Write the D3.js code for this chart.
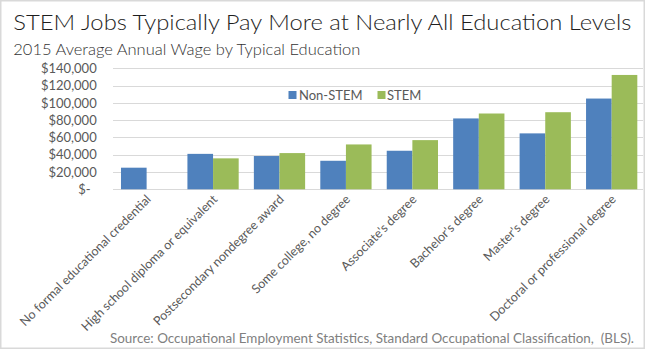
<!DOCTYPE html>
<html><head><meta charset="utf-8">
<script src="https://cdn.jsdelivr.net/npm/d3@7/dist/d3.min.js"></script>
<style>
html,body{margin:0;padding:0;background:#fff;}
svg{display:block;font-family:Lato,"Noto Sans",sans-serif;}
</style></head>
<body>
<svg id="chart" width="646" height="351"></svg>
<script>
const categories = ["No formal educational credential","High school diploma or equivalent","Postsecondary nondegree award","Some college, no degree","Associate's degree","Bachelor's degree","Master's degree","Doctoral or professional degree"];
const seriesNames = ["Non-STEM","STEM"];
const nonStem = [25000, 41000, 38500, 33000, 44600, 82000, 64700, 105000];
const stem = [null, 35800, 41900, 51900, 56900, 87700, 89200, 132300];
const yTicks = [0,20000,40000,60000,80000,100000,120000,140000];
const colors = {"Non-STEM":"#4f81bd","STEM":"#9bbb59"};
const titleText = "STEM Jobs Typically Pay More at Nearly All Education Levels";
const subtitleText = "2015 Average Annual Wage by Typical Education";
const sourceText = "Source: Occupational Employment Statistics, Standard Occupational Classification,  (BLS).";

const svg = d3.select("#chart");

// border
svg.append("rect").attr("x",0.75).attr("y",0.75).attr("width",643.5).attr("height",347.5)
  .attr("fill","#fff").attr("stroke","#d9d9d9").attr("stroke-width",1.5);

const x = d3.scaleBand().domain(categories).range([113.4, 644.9]).paddingInner(0).paddingOuter(0);
const xs = d3.scaleBand().domain(seriesNames).range([0, x.bandwidth()]).paddingInner(0).paddingOuter(0.296);
const y = d3.scaleLinear().domain([0,140000]).range([189.3, 68.3]);

// gridlines
svg.append("g").selectAll("line").data(yTicks).join("line")
  .attr("x1",113).attr("x2",643)
  .attr("y1",d=>Math.round(y(d))+0.5).attr("y2",d=>Math.round(y(d))+0.5)
  .attr("stroke","#d9d9d9").attr("stroke-width",1);

// y axis labels
const yAxis = d3.axisLeft(y).tickValues(yTicks).tickSize(0).tickPadding(0)
  .tickFormat(d => d===0 ? "$-" : "$" + d3.format(",")(d));
const gy = svg.append("g").attr("transform","translate(96.7,0)").call(yAxis);
gy.select(".domain").remove();
gy.selectAll("text").attr("fill","#595959").style("font-size","13px").style("font-family","Lato")
  .attr("dx", d => d===0 ? -6 : 0);

// bars
const rows = categories.map((c,i)=>({cat:c, vals:[{s:"Non-STEM",v:nonStem[i]},{s:"STEM",v:stem[i]}]}));
const g = svg.append("g").selectAll("g").data(rows).join("g")
  .attr("transform", d=>`translate(${x(d.cat)},0)`);
g.selectAll("rect").data(d=>d.vals.filter(v=>v.v!=null)).join("rect")
  .attr("x", d=>xs(d.s)).attr("width", xs.bandwidth())
  .attr("y", d=>y(d.v)).attr("height", d=>y(0)-y(d.v))
  .attr("fill", d=>colors[d.s]);

// x labels
svg.append("g").selectAll("text").data(categories).join("text")
  .attr("transform", d=>`translate(${x(d)+x.bandwidth()/2+2},197) rotate(-45)`)
  .attr("text-anchor","end").attr("dy","0.35em")
  .attr("fill","#595959").style("font-size","12.5px")
  .text(d=>d);

// legend
const leg = svg.append("g");
const legItems = [{s:"Non-STEM", sx:288.5, tx:299},{s:"STEM", sx:377.5, tx:387}];
legItems.forEach(it=>{
  leg.append("rect").attr("x",it.sx).attr("y",91).attr("width",8).attr("height",8).attr("fill",colors[it.s]);
  leg.append("text").attr("x",it.tx).attr("y",95).attr("dy","0.35em").attr("fill","#595959")
    .style("font-size","13px").text(it.s);
});

// titles
svg.append("text").attr("x",13.3).attr("y",30).attr("fill","#1e1e1e").style("font-size","21px")
  .style("font-weight","300")
  .attr("textLength",618).attr("lengthAdjust","spacingAndGlyphs").text(titleText);
svg.append("text").attr("x",13.3).attr("y",55).attr("fill","#333333").style("font-size","15px")
  .style("font-weight","300")
  .attr("textLength",347).attr("lengthAdjust","spacingAndGlyphs").text(subtitleText);
svg.append("text").attr("x",110).attr("y",342.5).attr("fill","#808080").style("font-size","13.5px")
  .style("white-space","pre").attr("xml:space","preserve")
  .attr("textLength",524).attr("lengthAdjust","spacingAndGlyphs").text(sourceText);
</script>
</body></html>
